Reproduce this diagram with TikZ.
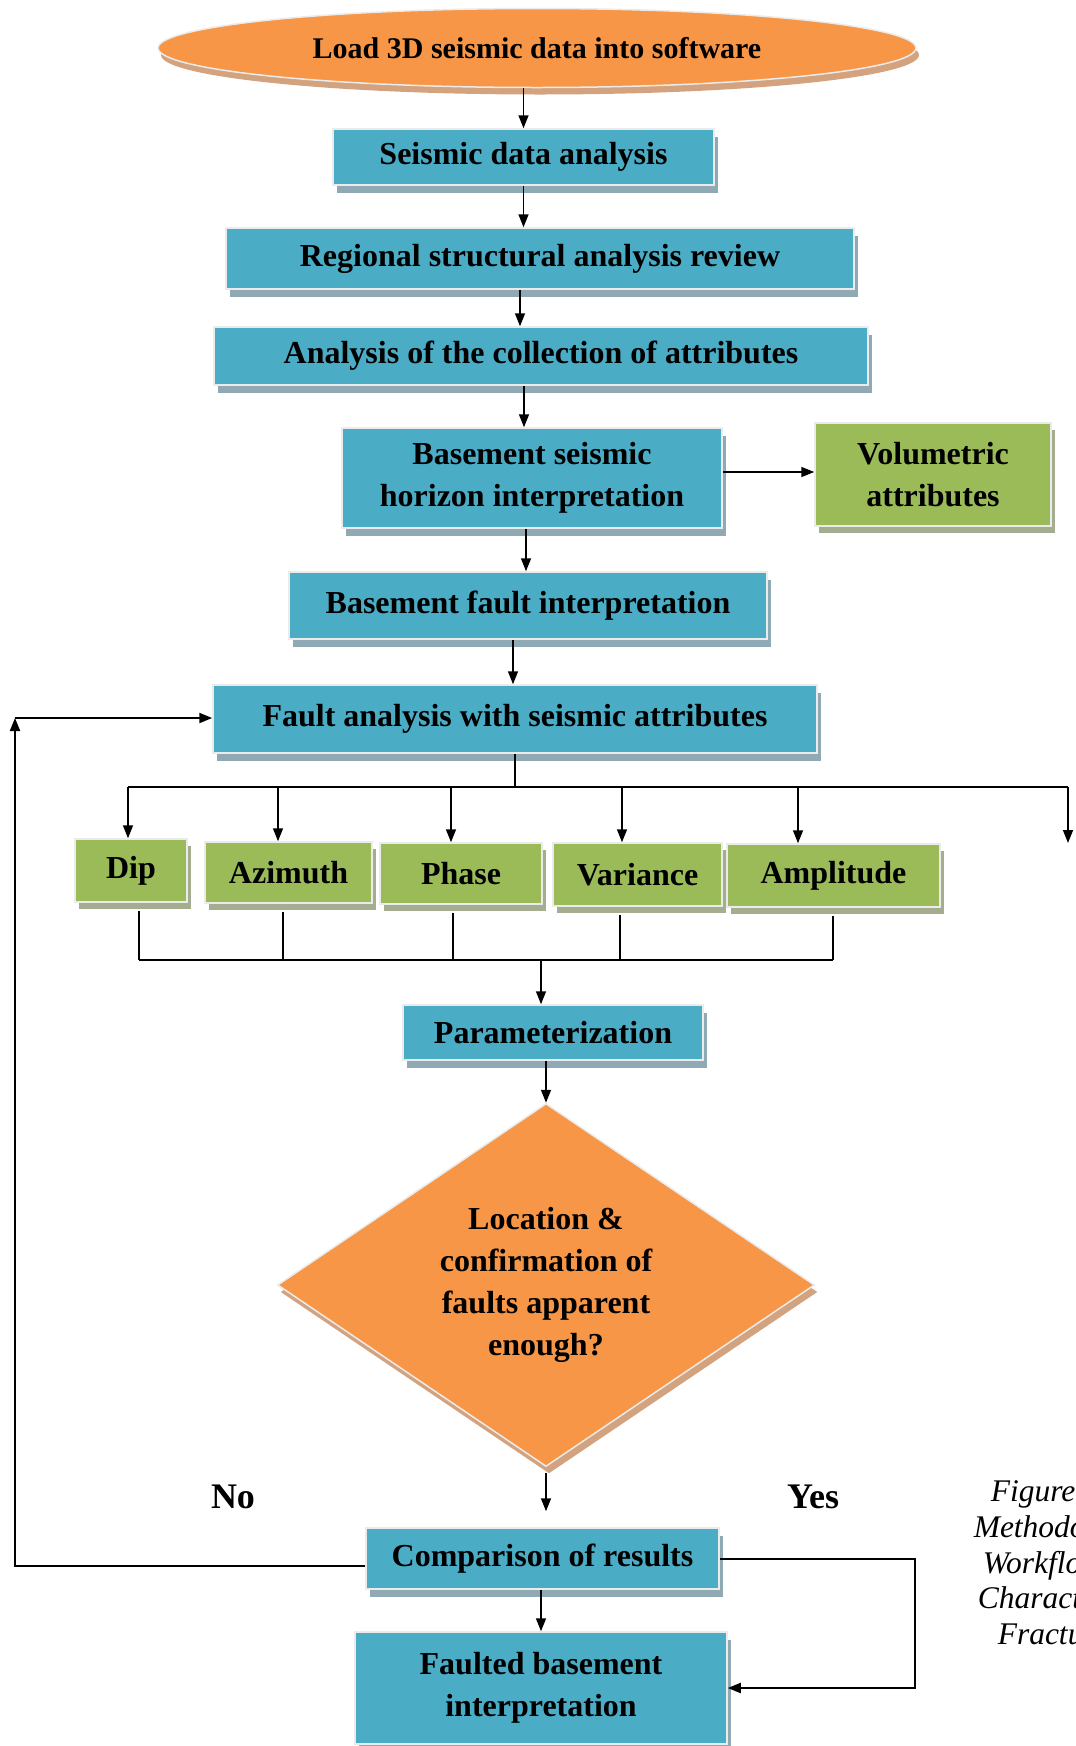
\documentclass[tikz,border=0pt]{standalone}
\usepackage{fontspec}
\setmainfont{Liberation Serif}
\usetikzlibrary{shapes.geometric,shadows,arrows.meta,calc}

\definecolor{boxblue}{HTML}{4BACC6}
\definecolor{boxgreen}{HTML}{9BBB59}
\definecolor{boxorange}{HTML}{F79646}
\definecolor{shblue}{HTML}{8FAAB4}
\definecolor{shgreen}{HTML}{A5AD90}
\definecolor{shorange}{HTML}{D3A27F}

\tikzset{
  boxbase/.style={rectangle, draw=white!92!black, line width=1.5pt, inner sep=0pt,
    align=center, font=\fontsize{32}{42}\selectfont\bfseries},
  stepbox/.style={boxbase, fill=boxblue,
    drop shadow={shadow xshift=4pt, shadow yshift=-8pt, fill=shblue, opacity=1}},
  attrbox/.style={boxbase, fill=boxgreen,
    drop shadow={shadow xshift=4pt, shadow yshift=-7pt, fill=shgreen, opacity=1}},
  orangeshape/.style={fill=boxorange, draw=white!92!black, line width=1.5pt, inner sep=0pt,
    align=center, font=\fontsize{32}{42}\selectfont\bfseries,
    drop shadow={shadow xshift=3pt, shadow yshift=-7pt, fill=shorange, opacity=1}},
  answer/.style={font=\fontsize{36}{40}\selectfont\bfseries},
  caption/.style={anchor=base west, inner sep=0pt, font=\fontsize{31.5}{36}\selectfont\itshape}
}

\begin{document}
\begin{tikzpicture}[x=1pt, y=-1pt, line width=1.5pt, >={Triangle[length=13pt,width=10pt]}, ->]
\useasboundingbox (0,0) rectangle (1076,1746);
\fill[white] (0,0) rectangle (1076,1746);

\node (load) [orangeshape, ellipse, minimum width=758pt, minimum height=79pt, font=\fontsize{30}{36}\selectfont\bfseries] at (537,48) {Load 3D seismic data into software};
\node (sda) [stepbox, minimum width=381pt, minimum height=56pt] at (523.5,157) {Seismic data analysis};
\node (region) [stepbox, minimum width=628pt, minimum height=61pt] at (540,258.5) {Regional structural analysis review};
\node (attrs) [stepbox, minimum width=654pt, minimum height=58pt] at (541,356) {Analysis of the collection of attributes};
\node (horizon) [stepbox, minimum width=380pt, minimum height=100pt] at (532,478) {Basement seismic\\horizon interpretation};
\node (volum) [attrbox, minimum width=236pt, minimum height=103pt] at (933,474.5) {Volumetric\\attributes};
\node (fault) [stepbox, minimum width=478pt, minimum height=67pt] at (528,605.5) {Basement fault interpretation};
\node (fasa) [stepbox, minimum width=604pt, minimum height=68pt] at (515,719) {Fault analysis with seismic attributes};

\node (dip) [attrbox, minimum width=112pt, minimum height=63pt] at (131,870.5) {Dip};
\node (azim) [attrbox, minimum width=167pt, minimum height=61pt] at (288.5,872.5) {Azimuth};
\node (phase) [attrbox, minimum width=162pt, minimum height=61pt] at (461,873.5) {Phase};
\node (var) [attrbox, minimum width=169pt, minimum height=63pt] at (637.5,874.5) {Variance};
\node (ampl) [attrbox, minimum width=213pt, minimum height=63pt] at (833.5,875.5) {Amplitude};

\node (param) [stepbox, minimum width=300pt, minimum height=55pt] at (553,1032.5) {Parameterization};
\node (dec) [orangeshape, diamond, aspect=1.48, minimum width=537pt, minimum height=363pt] at (546,1285) {Location \&\\confirmation of\\faults apparent\\enough?};
\node (comp) [stepbox, minimum width=353pt, minimum height=61pt] at (542.5,1558.5) {Comparison of results};
\node (final) [stepbox, minimum width=372pt, minimum height=112pt] at (541,1688) {Faulted basement\\interpretation};

\node (no) [answer] at (233,1497) {No};
\node (yes) [answer] at (813,1497) {Yes};

\foreach \t/\x/\y in {Figure/990/1501, Methodo/973/1537, Workflo/982/1573, Charact/977/1608, Fractu/997/1644}
  \node (cap\y) [caption] at (\x,\y) {\t};

\path
  (sda.north |- load.south) edge (sda.north)
  (sda.south) edge (sda.south |- region.north)
  (520,0 |- region.south) edge (520,0 |- attrs.north)
  (524,0 |- attrs.south) edge (524,0 |- horizon.north)
  (horizon.east |- 0,472) edge (volum.west |- 0,472)
  (526,0 |- horizon.south) edge (526,0 |- fault.north)
  (513,0 |- fault.south) edge (513,0 |- fasa.north);

\draw[-] (fasa.south) -- (fasa.south |- 0,787);
\draw[-, line width=2.5pt] (128,787) -- (1068,787);
\foreach \n/\x in {dip/128, azim/278, phase/451, var/622, ampl/798}
  \draw (\x,787) -- (\x,0 |- \n.north);
\coordinate (more) at (1068,843);
\draw (1068,787) -- (more);

\foreach \n/\x in {dip/139, azim/283, phase/453, var/620, ampl/833}
  \draw[-] ($(\n.south -| \x,0)+(0,8)$) -- (\x,960);
\draw[-, line width=2pt] (139,960) -- (833,960);
\draw (541,960) -- (541,0 |- param.north);

\path
  (dec.north |- param.south) edge (dec.north)
  ($(dec.south)+(0,6)$) edge ($(dec.south |- comp.north)+(0,-16)$)
  (final.north |- comp.south) edge (final.north);

\draw[line width=2pt] (comp.west |- 0,1566) -- (15,1566) -- (15,718);
\draw[line width=2pt] (15,718) -- (fasa.west |- 0,718);
\draw[line width=2pt] (comp.east) -- (915,0 |- comp.east) -- (915,0 |- final.east) -- (final.east);
\end{tikzpicture}
\end{document}
